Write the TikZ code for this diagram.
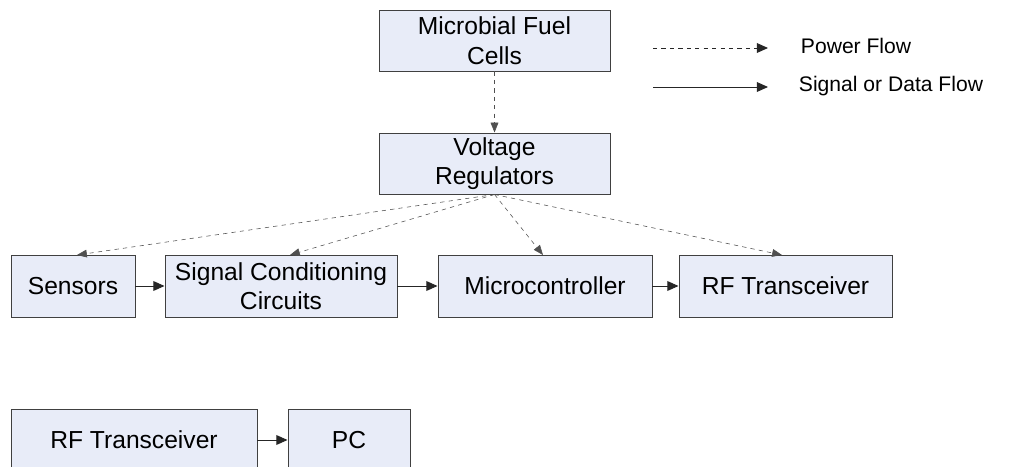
\documentclass[tikz,border=0pt]{standalone}
\usepackage{fontspec}
\setmainfont{Liberation Sans}
\usepackage{tikz}
\usetikzlibrary{positioning, arrows.meta, shapes.geometric}

\definecolor{boxfill}{HTML}{E8ECF8}
\definecolor{boxline}{HTML}{404040}
\definecolor{powline}{HTML}{505050}

\tikzset{
    blockbox/.style={draw=boxline, fill=boxfill, line width=0.7pt, align=center,
        font=\fontsize{17.5}{21}\selectfont, inner sep=0pt},
    sigflow/.style={-{Triangle[length=8pt,width=7pt]}, line width=0.7pt, draw=black!85},
    powflow/.style={-{Triangle[length=7pt,width=5.5pt]}, dashed, line width=0.4pt, draw=powline},
    legtext/.style={anchor=west, font=\fontsize{15}{18}\selectfont}
}

\begin{document}
\begin{tikzpicture}[x=0.025cm, y=-0.025cm]
    \useasboundingbox (0,0) rectangle (1021,467);
    \clip (0,0) rectangle (1021,467);

    % Power source and regulator
    \node[blockbox, minimum width=231*0.025cm, minimum height=61*0.025cm] (mfc) at (494.5,40.5) {Microbial Fuel\\Cells};
    \node[blockbox, minimum width=231*0.025cm, minimum height=61*0.025cm] (vreg) at (494.5,163.5) {Voltage\\Regulators};

    % Sensor node chain
    \node[blockbox, minimum width=124*0.025cm, minimum height=62*0.025cm] (sens) at (73,286) {Sensors};
    \node[blockbox, minimum width=232*0.025cm, minimum height=62*0.025cm] (scc) at (281,286) {Signal Conditioning\\Circuits};
    \node[blockbox, minimum width=214*0.025cm, minimum height=62*0.025cm] (mcu) at (545,286) {Microcontroller};
    \node[blockbox, minimum width=213*0.025cm, minimum height=62*0.025cm] (rftx) at (785.5,286) {RF Transceiver};

    % Receiver side
    \node[blockbox, minimum width=246*0.025cm, minimum height=62*0.025cm] (rfrx) at (134,440) {RF Transceiver};
    \node[blockbox, minimum width=122*0.025cm, minimum height=62*0.025cm] (pc) at (349,440) {PC};

    % Power flow
    \draw[powflow] (mfc) -- (vreg);
    \draw[powflow] (vreg.south) -- (77,255);
    \draw[powflow] (vreg.south) -- (290,255);
    \draw[powflow] (vreg.south) -- (543,255);
    \draw[powflow] (vreg.south) -- (782,255);

    % Signal flow
    \draw[sigflow] (sens) -- (scc);
    \draw[sigflow] (scc) -- (mcu);
    \draw[sigflow] (mcu) -- (rftx);
    \draw[sigflow] (rfrx) -- (pc);

    % Legend
    \coordinate (pwa) at (653,48);
    \coordinate (pwb) at (768,48);
    \coordinate (sga) at (653,87);
    \coordinate (sgb) at (768,87);
    \draw[-{Triangle[length=8pt,width=7pt]}, dashed, line width=0.7pt, draw=black!85] (pwa) -- (pwb);
    \draw[sigflow] (sga) -- (sgb);
    \node[legtext] (pwtxt) at (796,46) {Power Flow};
    \node[legtext] (sgtxt) at (794,86) {Signal or Data Flow};
\end{tikzpicture}
\end{document}
